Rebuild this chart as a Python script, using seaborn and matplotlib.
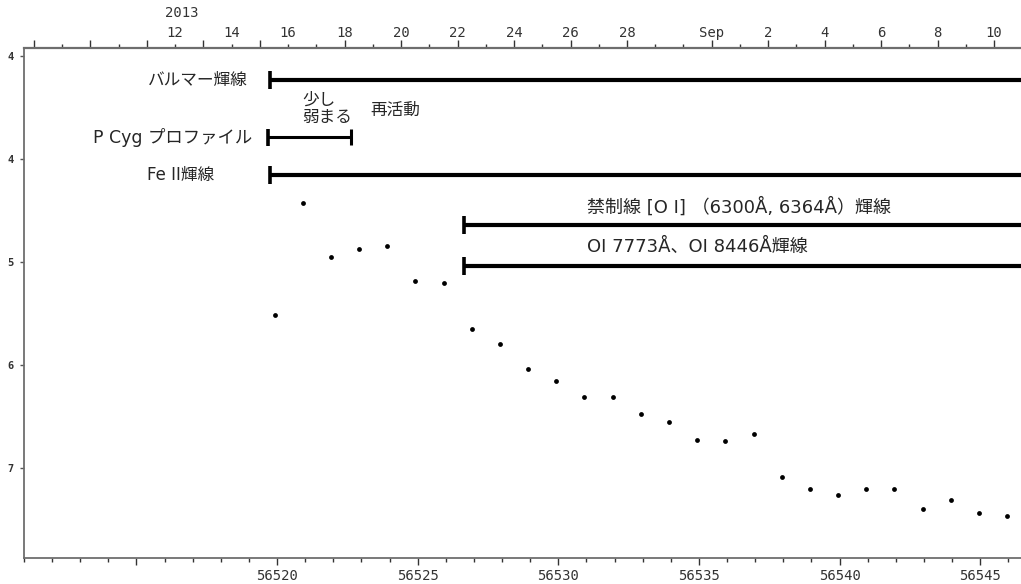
import matplotlib
matplotlib.use("Agg")
import matplotlib.pyplot as plt
import seaborn as sns
import pandas as pd

# ---------------- data ----------------
mjd = [56519.93, 56520.92, 56521.91, 56522.91, 56523.91, 56524.90, 56525.95,
       56526.93, 56527.93, 56528.92, 56529.93, 56530.92, 56531.96, 56532.95,
       56533.94, 56534.94, 56535.93, 56536.94, 56537.95, 56538.95, 56539.95,
       56540.95, 56541.95, 56542.95, 56543.97, 56544.96, 56545.96]
mag = [5.51, 4.43, 4.95, 4.87, 4.84, 5.18, 5.20,
       5.65, 5.80, 6.04, 6.16, 6.31, 6.31, 6.48,
       6.55, 6.73, 6.74, 6.67, 7.09, 7.20, 7.26,
       7.20, 7.20, 7.40, 7.31, 7.44, 7.47]

# spectral-feature bars: label, magnitude row, start MJD, end MJD (None = ongoing)
bar_labels = ["バルマー輝線", "P Cyg プロファイル", "Fe II輝線",
              "禁制線 [O I] （6300Å, 6364Å）輝線", "OI 7773Å、OI 8446Å輝線"]
bar_rows = [3.233, 3.79, 4.155, 4.641, 5.039]
bar_start = [56519.74, 56519.68, 56519.74, 56526.66, 56526.66]
bar_end = [None, 56522.63, None, None, None]

note_texts = ["少し\n弱まる", "再活動"]

bottom_ticks = [56515, 56520, 56525, 56530, 56535, 56540, 56545]
bottom_labels = ["", "56520", "56525", "56530", "56535", "56540", "56545"]

y_ticks = [3, 4, 5, 6, 7]
y_labels = ["4", "4", "5", "6", "7"]

top_tick_mjd = [56516.5, 56518.5, 56520.5, 56522.5, 56524.5, 56526.5, 56528.5,
                56530.5, 56532.5, 56535.5, 56537.5, 56539.5, 56541.5, 56543.5,
                56545.5]
top_tick_labels = ["12", "14", "16", "18", "20", "22", "24", "26", "28", "Sep",
                   "2", "4", "6", "8", "10"]
top_year = "2013"

# ---------------- style ----------------
sns.set_theme(style="white")
plt.rcParams["font.family"] = ["DejaVu Sans", "Noto Sans CJK JP"]

W, H = 1021, 584
fig = plt.figure(figsize=(W / 100, H / 100), dpi=100)
ax = fig.add_axes([24 / W, 1 - 558 / H, (W - 24) / W, (558 - 48) / H])

XMIN, XMAX = 56511.15, 56546.45
df = pd.DataFrame({"mjd": mjd, "mag": mag})
sns.scatterplot(data=df, x="mjd", y="mag", ax=ax, color="black", s=12,
                linewidth=0, legend=False)

ax.set_xlim(XMIN, XMAX)
ax.set_ylim(7.874, 2.922)
ax.set_xlabel("")
ax.set_ylabel("")
ax.grid(False)

spine_col = "#6e6e6e"
for s in ["left", "bottom"]:
    ax.spines[s].set_color(spine_col)
    ax.spines[s].set_linewidth(1.3)
ax.spines["right"].set_visible(False)
ax.spines["top"].set_visible(False)

mono = "DejaVu Sans Mono"
tick_txt = "#333333"

# bottom axis
ax.set_xticks(bottom_ticks)
ax.set_xticklabels(bottom_labels, fontfamily=mono, fontsize=10, color=tick_txt)
ax.set_xticks([d for d in range(56511, 56547) if d not in bottom_ticks], minor=True)
ax.tick_params(axis="x", which="major", direction="out", length=5, width=1,
               color="#333333", pad=3, bottom=True)
ax.tick_params(axis="x", which="minor", direction="out", length=3, width=1,
               color="#333333", bottom=True)

# left axis
ax.set_yticks(y_ticks)
ax.set_yticklabels(y_labels, fontfamily=mono, fontsize=7.5, color=tick_txt,
                   fontweight="bold")
ax.tick_params(axis="y", which="major", direction="out", length=3, width=1,
               color="#555555", pad=4.3, left=True)

# top axis (calendar dates)
ax2 = ax.twiny()
ax2.set_xlim(XMIN, XMAX)
for s in ["left", "bottom", "right"]:
    ax2.spines[s].set_visible(False)
ax2.spines["top"].set_color(spine_col)
ax2.spines["top"].set_linewidth(1.6)
ax2.grid(False)
ax2.set_xticks(top_tick_mjd)
ax2.set_xticklabels(top_tick_labels, fontfamily=mono, fontsize=10, color=tick_txt)
minor_top = [d + 0.5 for d in range(56511, 56546) if d + 0.5 not in top_tick_mjd]
ax2.set_xticks(minor_top, minor=True)
ax2.tick_params(axis="x", which="both", direction="out", length=3, width=1,
                color="#333333", pad=2.7, top=True)
# longer top ticks where the reference shows them
for t, pos in zip(ax2.xaxis.get_major_ticks(), top_tick_mjd):
    if pos >= 56522.5:
        t.tick2line.set_markersize(6)
for t, pos in zip(ax2.xaxis.get_minor_ticks(), minor_top):
    if pos in (56511.5, 56513.5, 56515.5, 56517.5, 56519.5):
        t.tick2line.set_markersize(6)

fig.text(165 / W, 1 - 13 / H, top_year, fontfamily=mono, fontsize=10,
         color=tick_txt, ha="left", va="center")

# ---------------- feature bars ----------------
cap_half = 0.085
for lab, row, x0, x1 in zip(bar_labels, bar_rows, bar_start, bar_end):
    lw = 3.0 if x1 is None else 2.2
    xe = 56548 if x1 is None else x1
    ax.hlines(row, x0, xe, color="black", lw=lw, zorder=3)
    ax.vlines(x0, row - cap_half, row + cap_half, color="black", lw=2.6, zorder=3)
    if x1 is not None:
        ax.vlines(x1, row - 0.078, row + 0.078, color="black", lw=2.2, zorder=3)

txt_col = "#262626"
fs = 12
ax.text(56518.97, bar_rows[0], bar_labels[0], ha="right", va="center",
        fontsize=fs, color=txt_col)
ax.text(56519.11, bar_rows[1], bar_labels[1], ha="right", va="center",
        fontsize=12.5, color=txt_col)
ax.text(56517.77, bar_rows[2], bar_labels[2], ha="right", va="center",
        fontsize=fs, color=txt_col)
ax.text(56531.01, 4.466, bar_labels[3], ha="left", va="center",
        fontsize=13, color=txt_col)
ax.text(56531.01, 4.854, bar_labels[4], ha="left", va="center",
        fontsize=13, color=txt_col)
ax.text(56520.89, 3.505, note_texts[0], ha="left", va="center",
        fontsize=fs, color=txt_col, linespacing=0.95)
ax.text(56523.33, 3.524, note_texts[1], ha="left", va="center",
        fontsize=fs, color=txt_col)

fig.savefig("out.png", dpi=100)
